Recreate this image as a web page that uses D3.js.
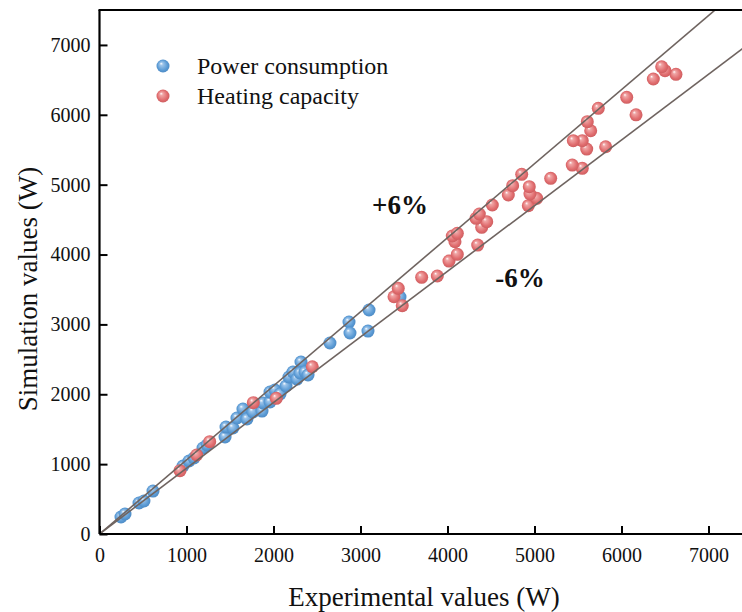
<!DOCTYPE html>
<html>
<head>
<meta charset="utf-8">
<script src="https://cdn.jsdelivr.net/npm/d3@7/dist/d3.min.js"></script>
<style>
  html, body { margin: 0; padding: 0; background: #fff; }
  svg { display: block; font-family: "Liberation Serif", "Times New Roman", serif; }
</style>
</head>
<body>
<svg id="chart" width="742" height="612"></svg>
<script>
// Experimental vs simulated values, in watts: [experimental, simulation]
const powerConsumption = [
  [247, 243], [293, 286], [454, 444], [511, 472], [615, 615],
  [960, 973], [1029, 1045], [1086, 1088], [1190, 1231], [1236, 1274],
  [1443, 1388], [1454, 1531], [1534, 1517], [1580, 1660], [1649, 1789],
  [1695, 1646], [1764, 1746], [1868, 1760], [1879, 1875], [1960, 1889],
  [1960, 2032], [2017, 2061], [2075, 2004], [2144, 2118], [2178, 2247],
  [2224, 2319], [2270, 2218], [2316, 2462], [2305, 2304], [2362, 2319],
  [2397, 2276], [2649, 2734], [2868, 3034], [2879, 2877], [3086, 2905],
  [3098, 3206], [3454, 3392]
];
const heatingCapacity = [
  [925, 906], [1117, 1131], [1267, 1322], [1768, 1880], [2032, 1942],
  [2446, 2394], [3385, 3396], [3434, 3517], [3480, 3268], [3703, 3674],
  [3883, 3693], [4017, 3907], [4113, 4003], [4347, 4136], [4086, 4184],
  [4055, 4265], [4113, 4304], [4393, 4390], [4451, 4470], [4328, 4518],
  [4366, 4580], [4515, 4709], [4929, 4699], [5025, 4805], [4948, 4866],
  [4699, 4852], [4940, 4971], [4749, 4985], [5186, 5091], [4853, 5148],
  [5549, 5234], [5434, 5281], [5818, 5543], [5600, 5510], [5549, 5629],
  [5446, 5629], [5646, 5772], [5607, 5901], [5733, 6093], [6167, 6000],
  [6060, 6250], [6366, 6512], [6626, 6579], [6500, 6631], [6462, 6688]
];
const tickValues = [0, 1000, 2000, 3000, 4000, 5000, 6000, 7000];
const errorBands = [
  { label: "+6%", factor: 1.06 },
  { label: "-6%", factor: 0.94 }
];
const seriesNames = ["Power consumption", "Heating capacity"];

const svg = d3.select("#chart");
const plotLeft = 99.5, plotBottom = 534, plotTop = 10, plotRight = 752;

const x = d3.scaleLinear().domain([0, 7500]).range([plotLeft, plotRight]);
const y = d3.scaleLinear().domain([0, 7500]).range([plotBottom, plotTop]);

// sphere-like marker gradients
const defs = svg.append("defs");
function sphere(id, light, base, dark) {
  const g = defs.append("radialGradient").attr("id", id)
    .attr("cx", "50%").attr("cy", "50%").attr("r", "55%")
    .attr("fx", "35%").attr("fy", "30%");
  g.append("stop").attr("offset", "0%").attr("stop-color", "#ffffff");
  g.append("stop").attr("offset", "22%").attr("stop-color", light);
  g.append("stop").attr("offset", "70%").attr("stop-color", base);
  g.append("stop").attr("offset", "100%").attr("stop-color", dark);
}
sphere("blueBall", "#9cc4ea", "#5b9bd5", "#4a86c0");
sphere("redBall", "#f0a5a5", "#e06c6e", "#c95a5c");

defs.append("clipPath").attr("id", "plotClip")
  .append("rect").attr("x", plotLeft).attr("y", plotTop)
  .attr("width", plotRight - plotLeft).attr("height", plotBottom - plotTop);

const plot = svg.append("g").attr("clip-path", "url(#plotClip)");
const r = 6.5;

plot.append("g").selectAll("circle").data(powerConsumption).join("circle")
  .attr("cx", d => x(d[0])).attr("cy", d => y(d[1])).attr("r", r)
  .attr("fill", "url(#blueBall)");
plot.append("g").selectAll("circle").data(heatingCapacity).join("circle")
  .attr("cx", d => x(d[0])).attr("cy", d => y(d[1])).attr("r", r)
  .attr("fill", "url(#redBall)");

// ±6% deviation lines through the origin
plot.append("g").selectAll("line").data(errorBands).join("line")
  .attr("x1", x(0)).attr("y1", y(0))
  .attr("x2", x(8000)).attr("y2", d => y(8000 * d.factor))
  .attr("stroke", "#6f6460").attr("stroke-width", 1.6);

// axes with inward ticks
const xAxis = svg.append("g").attr("transform", `translate(0,${plotBottom})`)
  .call(d3.axisBottom(x).tickValues(tickValues).tickSize(-8).tickPadding(14).tickFormat(d3.format("d")));
const yAxis = svg.append("g").attr("transform", `translate(${plotLeft},0)`)
  .call(d3.axisLeft(y).tickValues(tickValues).tickSize(-8).tickPadding(9).tickFormat(d3.format("d")));
[xAxis, yAxis].forEach(a => {
  a.select(".domain").attr("stroke", "#000").attr("stroke-width", 2.2);
  a.selectAll(".tick line").attr("stroke", "#000").attr("stroke-width", 2);
  a.selectAll(".tick text").attr("font-size", 20).attr("fill", "#111")
    .attr("font-family", "Liberation Serif, serif");
});
xAxis.select(".domain").attr("d", `M${plotLeft},0H742`);
yAxis.select(".domain").attr("d", `M0,${plotBottom}V${plotTop}`);

// top frame line
svg.append("line").attr("x1", plotLeft - 1).attr("x2", 742)
  .attr("y1", plotTop).attr("y2", plotTop)
  .attr("stroke", "#000").attr("stroke-width", 2.2);

// axis titles
svg.append("text").attr("x", 424).attr("y", 606).attr("text-anchor", "middle")
  .attr("font-size", 27).attr("fill", "#111").text("Experimental values (W)");
svg.append("text").attr("transform", "translate(37,289) rotate(-90)")
  .attr("text-anchor", "middle").attr("font-size", 27).attr("fill", "#111")
  .text("Simulation values (W)");

// band labels
svg.append("text").attr("x", 400).attr("y", 214).attr("text-anchor", "middle")
  .attr("font-size", 27).attr("font-weight", "bold").attr("fill", "#111")
  .text(errorBands[0].label);
svg.append("text").attr("x", 520).attr("y", 287).attr("text-anchor", "middle")
  .attr("font-size", 27).attr("font-weight", "bold").attr("fill", "#111")
  .text(errorBands[1].label);

// legend
const legend = svg.append("g");
const fills = ["url(#blueBall)", "url(#redBall)"];
seriesNames.forEach((name, i) => {
  const cy = 66 + i * 30;
  legend.append("circle").attr("cx", 163).attr("cy", cy).attr("r", r).attr("fill", fills[i]);
  legend.append("text").attr("x", 197).attr("y", cy + 8).attr("font-size", 24)
    .attr("fill", "#111").text(name);
});
</script>
</body>
</html>
